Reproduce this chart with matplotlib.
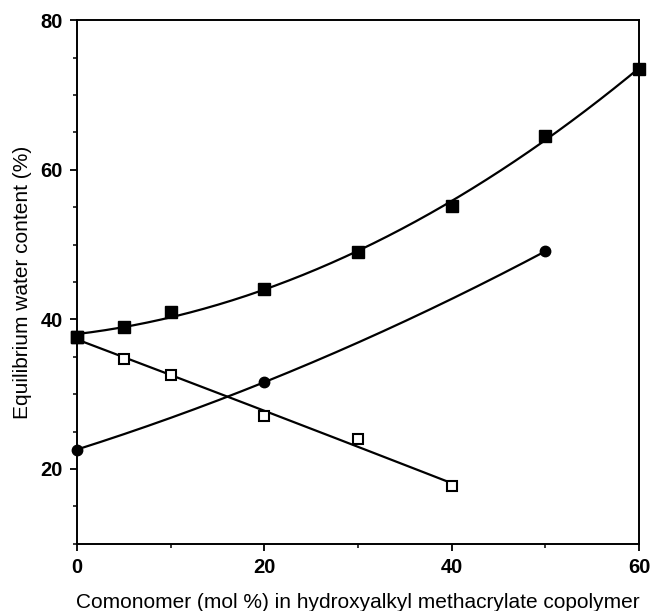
import numpy as np
import matplotlib
matplotlib.use("Agg")
import matplotlib.pyplot as plt
from matplotlib.ticker import MultipleLocator

plt.rcParams.update({
    "font.family": "sans-serif",
    "font.sans-serif": ["Liberation Sans", "DejaVu Sans"],
})

# Equilibrium water content of the copolymers
x_filled_sq = [0, 5, 10, 20, 30, 40, 50, 60]
y_filled_sq = [37.6, 39.0, 41.0, 44.0, 49.0, 55.2, 64.5, 73.5]

x_circle = [0, 20, 50]
y_circle = [22.6, 31.6, 49.1]

x_open_sq = [0, 5, 10, 20, 30, 40]
y_open_sq = [37.6, 34.7, 32.6, 27.1, 24.0, 17.7]

fig = plt.figure(figsize=(6.52, 6.11), dpi=100)
ax = fig.add_axes([0.118, 0.11, 0.862, 0.857])


def fit_curve(x, y, deg, x_end):
    coef = np.polyfit(x, y, deg)
    xs = np.linspace(0, x_end, 200)
    return xs, np.polyval(coef, xs)


xs, ys = fit_curve(x_filled_sq, y_filled_sq, 2, 60)
ax.plot(xs, ys, color="black", lw=1.6, zorder=2)
xs, ys = fit_curve(x_circle, y_circle, 2, 50)
ax.plot(xs, ys, color="black", lw=1.6, zorder=2)
xs, ys = fit_curve(x_open_sq, y_open_sq, 2, 40)
ax.plot(xs, ys, color="black", lw=1.6, zorder=2)

ax.plot(x_filled_sq, y_filled_sq, "s", color="black", ms=8, ls="none",
        zorder=3, clip_on=False)
ax.plot(x_circle, y_circle, "o", color="black", ms=7.5, ls="none",
        zorder=3, clip_on=False)
ax.plot(x_open_sq[1:], y_open_sq[1:], "s", mfc="white", mec="black",
        mew=1.5, ms=7.5, ls="none", zorder=3)
ax.plot(x_open_sq[:1], y_open_sq[:1], "s", color="black", ms=8, ls="none",
        zorder=4, clip_on=False)

ax.set_xlim(0, 60)
ax.set_ylim(10, 80)
ax.xaxis.set_major_locator(MultipleLocator(20))
ax.xaxis.set_minor_locator(MultipleLocator(10))
ax.yaxis.set_major_locator(MultipleLocator(20))
ax.yaxis.set_minor_locator(MultipleLocator(5))
ax.set_yticks([20, 40, 60, 80])

ax.tick_params(which="major", direction="out", length=5, width=1.3,
               labelsize=14.5, pad=5)
ax.tick_params(which="minor", direction="out", length=3, width=1.1)
for lab in ax.get_xticklabels() + ax.get_yticklabels():
    lab.set_fontweight("bold")
for sp in ax.spines.values():
    sp.set_linewidth(1.4)

ax.set_xlabel("Comonomer (mol %) in hydroxyalkyl methacrylate copolymer",
              fontsize=15, labelpad=12)
ax.set_ylabel("Equilibrium water content (%)", fontsize=15, labelpad=6)

fig.savefig("out.png", dpi=100)
